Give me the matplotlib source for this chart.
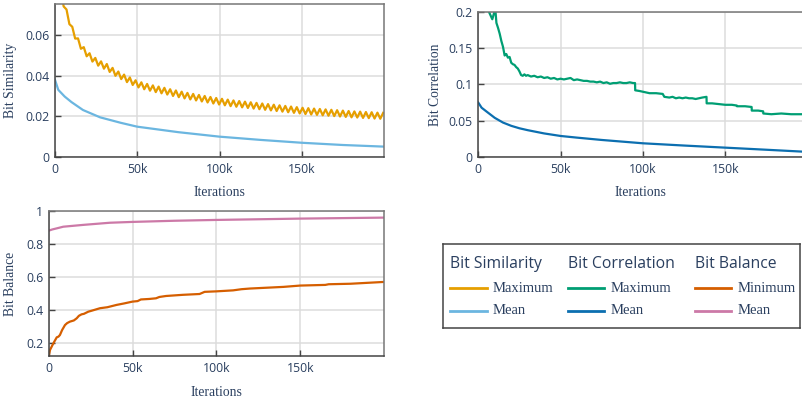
import numpy as np
import matplotlib
matplotlib.use("Agg")
import matplotlib.pyplot as plt
from matplotlib.lines import Line2D

# ---------------- data ----------------
# Bit Similarity - Maximum: sawtooth; peaks every 3.5k iterations, troughs halfway
sim_max_peaks = [0.0965, 0.0835, 0.0725, 0.064, 0.0583, 0.054, 0.051, 0.0487, 0.047, 0.0457,
                 0.0438, 0.042, 0.0405, 0.0391, 0.0377, 0.0367, 0.0359, 0.0352, 0.0346, 0.034,
                 0.0333, 0.0327, 0.0321, 0.0315, 0.031, 0.0305, 0.03, 0.0295, 0.029, 0.0286,
                 0.0282, 0.0278, 0.0275, 0.0272, 0.0269, 0.0266, 0.0263, 0.026, 0.0257, 0.0254,
                 0.0251, 0.0248, 0.0245, 0.0242, 0.024, 0.0238, 0.0236, 0.0234, 0.0232, 0.023,
                 0.0228, 0.0226, 0.0224, 0.0223, 0.0221, 0.022, 0.0218, 0.0217]
sim_max_troughs = [0.087, 0.074, 0.0653, 0.0582, 0.0532, 0.0495, 0.0469, 0.0449, 0.0434, 0.0418,
                   0.0399, 0.0383, 0.0368, 0.0354, 0.0342, 0.0333, 0.0326, 0.0319, 0.0313, 0.0307,
                   0.030, 0.0294, 0.0288, 0.0283, 0.0278, 0.0273, 0.0268, 0.0263, 0.0258, 0.0254,
                   0.025, 0.0247, 0.0244, 0.0241, 0.0238, 0.0235, 0.0232, 0.0229, 0.0226, 0.0223,
                   0.022, 0.0217, 0.0214, 0.0211, 0.0209, 0.0207, 0.0205, 0.0203, 0.0201, 0.0199,
                   0.0197, 0.0195, 0.0194, 0.0192, 0.0191, 0.0189, 0.0188]
sim_max_period = 3500

sim_mean_x = [0, 2e3, 5.9e3, 10e3, 17e3, 27.4e3, 40e3, 50e3, 75e3, 100e3, 125e3, 150e3, 175e3, 200e3]
sim_mean_y = [0.0379, 0.033, 0.0297, 0.027, 0.0231, 0.0195, 0.0168, 0.0149, 0.0122, 0.0100,
              0.0084, 0.0070, 0.0059, 0.0051]

corr_max_x = [0, 4e3, 6.5e3, 7.5e3, 8.5e3, 9.5e3, 10.3e3, 11e3, 12e3, 13e3, 14e3, 15e3, 16e3, 17e3,
              18e3, 19e3, 20e3, 21e3, 22e3, 23e3, 24e3, 25e3, 26e3, 27e3, 28e3, 29e3, 30e3, 32e3,
              34e3, 36e3, 38e3, 40e3, 42e3, 44e3, 46e3, 48e3, 50e3, 52e3, 54e3, 56e3, 58e3, 60e3,
              62e3, 64e3, 66e3, 68e3, 70e3, 72e3, 74e3, 76e3, 78e3, 80e3, 82e3, 84e3, 86e3, 88e3,
              90e3, 92e3, 94e3, 95.2e3, 95.3e3, 98e3, 100e3, 102e3, 104e3, 108e3, 112e3, 113e3,
              116e3, 118e3, 120e3, 122e3, 124e3, 126e3, 128e3, 130e3, 132e3, 134e3, 136e3, 138.6e3,
              138.7e3, 142e3, 146e3, 150e3, 154e3, 157e3, 157.1e3, 162e3, 166e3, 166.1e3, 170e3,
              173e3, 173.1e3, 178e3, 184e3, 190e3, 196.6e3]
corr_max_y = [0.30, 0.24, 0.20, 0.195, 0.19, 0.198, 0.205, 0.185, 0.178, 0.17, 0.16, 0.152, 0.14, 0.142,
              0.137, 0.138, 0.13, 0.128, 0.127, 0.124, 0.122, 0.118, 0.113, 0.112, 0.114, 0.112, 0.113, 0.111,
              0.112, 0.110, 0.111, 0.109, 0.110, 0.108, 0.109, 0.107, 0.108, 0.107, 0.108, 0.109, 0.106, 0.107,
              0.106, 0.105, 0.105, 0.104, 0.104, 0.103, 0.104, 0.102, 0.103, 0.101, 0.102, 0.102, 0.103, 0.102,
              0.102, 0.103, 0.102, 0.102, 0.092, 0.091, 0.090, 0.089, 0.088, 0.088, 0.087, 0.083,
              0.082, 0.083, 0.081, 0.082, 0.081, 0.082, 0.081, 0.081, 0.080, 0.081, 0.082, 0.083,
              0.074, 0.074, 0.073, 0.072, 0.072, 0.071, 0.070, 0.070, 0.069, 0.064, 0.064,
              0.063, 0.060, 0.059, 0.060, 0.059, 0.059]

corr_mean_x = [0, 2e3, 5e3, 10e3, 15e3, 20e3, 25e3, 30e3, 40e3, 50e3, 60e3, 75e3, 100e3, 125e3,
               150e3, 175e3, 197e3]
corr_mean_y = [0.075, 0.068, 0.0627, 0.054, 0.0475, 0.043, 0.0396, 0.037, 0.0325, 0.029, 0.0267,
               0.0235, 0.0189, 0.0158, 0.0129, 0.0100, 0.0074]

bal_min_x = [0, 0.8e3, 2.8e3, 4.8e3, 5.8e3, 6.7e3, 8e3, 9.7e3, 11e3, 12.7e3, 15e3, 16.7e3, 18e3, 19.6e3,
             21e3, 22e3, 23.6e3, 26e3, 30.6e3, 35e3, 40.5e3, 45e3, 50e3, 53e3, 55e3, 60e3, 64e3, 66e3,
             70e3, 80e3, 90e3, 93e3, 100e3, 110e3, 115e3, 120e3, 140e3, 150e3, 165e3, 167e3, 180e3, 200e3]
bal_min_y = [0.123, 0.16, 0.20, 0.236, 0.24, 0.25, 0.28, 0.31, 0.322, 0.331, 0.338, 0.351, 0.366, 0.375,
             0.378, 0.383, 0.391, 0.398, 0.412, 0.418, 0.432, 0.441, 0.452, 0.455, 0.465, 0.468, 0.472,
             0.48, 0.486, 0.493, 0.498, 0.511, 0.514, 0.52, 0.527, 0.531, 0.541, 0.549, 0.553, 0.557,
             0.560, 0.571]

bal_mean_x = [0, 2e3, 4.8e3, 8.7e3, 20.6e3, 36.5e3, 50e3, 75e3, 100e3, 150e3, 200e3]
bal_mean_y = [0.881, 0.888, 0.895, 0.905, 0.916, 0.929, 0.934, 0.941, 0.946, 0.954, 0.960]

x_ticks = [0, 50000, 100000, 150000]
x_tick_labels = ["0", "50k", "100k", "150k"]
sim_ticks = [0, 0.02, 0.04, 0.06]
sim_tick_labels = ["0", "0.02", "0.04", "0.06"]
corr_ticks = [0, 0.05, 0.1, 0.15, 0.2]
corr_tick_labels = ["0", "0.05", "0.1", "0.15", "0.2"]
bal_ticks = [0.2, 0.4, 0.6, 0.8, 1.0]
bal_tick_labels = ["0.2", "0.4", "0.6", "0.8", "1"]

# ---------------- styling ----------------
C_SIM_MAX = "#E69F00"
C_SIM_MEAN = "#6BB6E0"
C_CORR_MAX = "#009E73"
C_CORR_MEAN = "#0C6FB0"
C_BAL_MIN = "#D55E00"
C_BAL_MEAN = "#CC79A7"
TXT = "#2a3f5f"
SANS = "Open Sans"
SERIF = "Liberation Serif"
LW = 1.6

W, H = 802, 401
fig = plt.figure(figsize=(W / 100, H / 100), dpi=100)


def rect(l, t, r, b):
    return [l / W, 1 - b / H, (r - l) / W, (b - t) / H]


def style(ax, yticks, ylabels, ylabel, ylab_x, xlab_y, hide_right=False):
    ax.set_xticks(x_ticks)
    ax.set_xticklabels(x_tick_labels)
    ax.set_yticks(yticks)
    ax.set_yticklabels(ylabels)
    ax.grid(True, color="#dcdcdc", lw=1.1)
    ax.set_axisbelow(True)
    ax.tick_params(direction="in", length=4, width=1, color="#444444",
                   labelcolor=TXT, labelsize=8.8, pad=4)
    for lab in ax.get_xticklabels() + ax.get_yticklabels():
        lab.set_fontfamily(SANS)
    for side, sp in ax.spines.items():
        sp.set_color("#444444" if side in ("left", "bottom") else "#777777")
        sp.set_linewidth(1.1)
    if hide_right:
        ax.spines["right"].set_visible(False)
    ax.set_xlabel("Iterations", fontfamily=SERIF, fontsize=9.8, color=TXT)
    ax.set_ylabel(ylabel, fontfamily=SERIF, fontsize=9.8, color=TXT)
    ax.xaxis.set_label_coords(0.5, xlab_y)
    ax.yaxis.set_label_coords(ylab_x, 0.5)


# --- Bit Similarity ---
ax1 = fig.add_axes(rect(55, 4, 384, 157))
n_p = len(sim_max_peaks)
sim_x = []
sim_y = []
for i in range(n_p):
    sim_x.append(i * sim_max_period)
    sim_y.append(sim_max_peaks[i])
    if i < len(sim_max_troughs):
        sim_x.append(i * sim_max_period + sim_max_period / 2)
        sim_y.append(sim_max_troughs[i])
ax1.plot(sim_x, sim_y, color=C_SIM_MAX, lw=LW)
ax1.plot(sim_mean_x, sim_mean_y, color=C_SIM_MEAN, lw=LW)
ax1.set_xlim(0, 200000)
ax1.set_ylim(0, 0.0752)
style(ax1, sim_ticks, sim_tick_labels, "Bit Similarity", (17.3 - 55) / 329, (157 - 186.5) / 153)

# --- Bit Correlation ---
ax2 = fig.add_axes(rect(478.3, 12, 802, 157))
ax2.plot(corr_max_x, corr_max_y, color=C_CORR_MAX, lw=LW)
ax2.plot(corr_mean_x, corr_mean_y, color=C_CORR_MEAN, lw=LW)
ax2.set_xlim(0, 196600)
ax2.set_ylim(0, 0.2)
style(ax2, corr_ticks, corr_tick_labels, "Bit Correlation", (441.7 - 478.3) / 323.7,
      (157 - 186.5) / 145, hide_right=True)

# --- Bit Balance ---
ax3 = fig.add_axes(rect(48.7, 211, 384, 356))
ax3.plot(bal_mean_x, bal_mean_y, color=C_BAL_MEAN, lw=LW)
ax3.plot(bal_min_x, bal_min_y, color=C_BAL_MIN, lw=LW)
ax3.set_xlim(0, 200000)
ax3.set_ylim(0.123, 1.0)
style(ax3, bal_ticks, bal_tick_labels, "Bit Balance", (17.3 - 48.7) / 335.3, (356 - 386.5) / 145)

# --- Legend (grouped by metric) ---
L, T, R, B = 443, 244, 800, 328
lax = fig.add_axes(rect(L, T, R, B))
lax.set_xlim(L, R)
lax.set_ylim(B, T)
lax.set_xticks([])
lax.set_yticks([])
for sp in lax.spines.values():
    sp.set_color("#444444")
    sp.set_linewidth(1.1)

groups = [
    ("Bit Similarity", 450, 487, 493, [("Maximum", C_SIM_MAX), ("Mean", C_SIM_MEAN)]),
    ("Bit Correlation", 568, 604, 611, [("Maximum", C_CORR_MAX), ("Mean", C_CORR_MEAN)]),
    ("Bit Balance", 695, 731, 738, [("Minimum", C_BAL_MIN), ("Mean", C_BAL_MEAN)]),
]
row_y = [288, 311]
for title, x0, x1, xt, entries in groups:
    lax.text(x0, 264, title, fontfamily=SANS, fontsize=11.3, color=TXT, ha="left", va="center")
    for (name, col), yy in zip(entries, row_y):
        lax.add_line(Line2D([x0, x1], [yy, yy], color=col, lw=LW + 0.4))
        lax.text(xt, yy, name, fontfamily=SERIF, fontsize=10.5, color=TXT, ha="left", va="center")

fig.savefig("out.png", dpi=100)
